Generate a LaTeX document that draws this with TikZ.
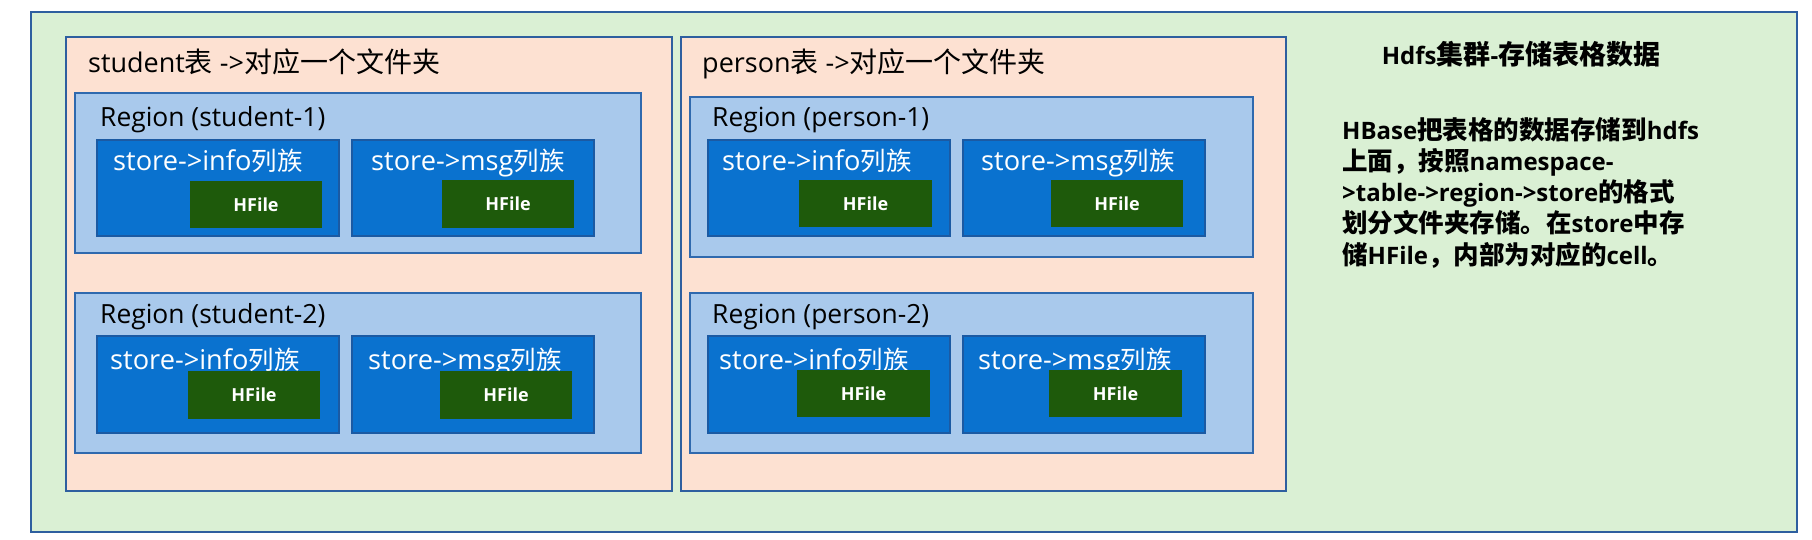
\documentclass[tikz,border=0pt]{standalone}
\usepackage{fontspec}
\setmainfont{Open Sans}
\newfontfamily\cjk{Noto Sans CJK SC}
\newcommand\zh[2]{{\cjk\fontsize{#1}{#1}\selectfont #2}}
\usetikzlibrary{fit}
\definecolor{outergreen}{HTML}{DAF0D4}
\definecolor{bordblue}{HTML}{2E5F9F}
\definecolor{peach}{HTML}{FDE1D2}
\definecolor{reglight}{HTML}{A9C9EC}
\definecolor{regedge}{HTML}{2F69AE}
\definecolor{storeblue}{HTML}{0A72CF}
\definecolor{storeedge}{HTML}{1B5AA3}
\definecolor{hgreen}{HTML}{1E5A0B}
\tikzset{
  outerbx/.style={draw=bordblue, line width=2pt, fill=outergreen, inner sep=0pt},
  tablebx/.style={draw=bordblue, line width=1.6pt, fill=peach, inner sep=0pt},
  regionbx/.style={draw=regedge, line width=1.6pt, fill=reglight, inner sep=0pt},
  storebx/.style={draw=storeedge, line width=2pt, fill=storeblue, inner sep=0pt},
  hfilebx/.style={fill=hgreen, inner sep=0pt},
  hftext/.style={text=white, inner sep=0pt, font=\bfseries\fontsize{18}{22}\selectfont},
  tabtitle/.style={anchor=base west, inner sep=0pt, font=\fontsize{27}{30}\selectfont},
  regtitle/.style={anchor=base west, inner sep=0pt, font=\fontsize{26.4}{30}\selectfont},
  storetext/.style={anchor=base west, inner sep=0pt, text=white, font=\fontsize{27.2}{30}\selectfont},
  sidetitle/.style={anchor=base, inner sep=0pt, font=\bfseries\fontsize{24}{28}\selectfont},
  sideline/.style={anchor=base west, inner sep=0pt, font=\bfseries\fontsize{24}{28}\selectfont},
}
\newcommand\zT[1]{\zh{28}{#1}}
\newcommand\zS[1]{\zh{25.5}{#1}}
\newcommand\zH[1]{\zh{27}{\bfseries #1}}
\newcommand\zR[1]{\zh{25.5}{\bfseries #1}}
\begin{document}
\begin{tikzpicture}[x=1pt,y=-1pt]
\useasboundingbox (0,0) rectangle (1812,540);
% outer cluster
\node[outerbx, fit={(31,12) (1797,532)}] (hdfs) {};
% tables
\node[tablebx, fit={(66,37) (672,491)}] (student) {};
\node[tablebx, fit={(681,37) (1286,491)}] (person) {};
\node[tabtitle] (studentT) at (88,73) {student\zT{表} ->\zT{对应一个文件夹}};
\node[tabtitle] (personT) at (702,73) {person\zT{表} ->\zT{对应一个文件夹}};
% regions
\node[regionbx, fit={(75,93) (641,253)}] (rs1) {};
\node[regionbx, fit={(75,293) (641,453)}] (rs2) {};
\node[regionbx, fit={(690,97) (1253,257)}] (rp1) {};
\node[regionbx, fit={(690,293) (1253,453)}] (rp2) {};
\node[regtitle] (rs1T) at (100,127) {Region (student-1)};
\node[regtitle] (rs2T) at (100,323) {Region (student-2)};
\node[regtitle] (rp1T) at (712,127) {Region (person-1)};
\node[regtitle] (rp2T) at (712,323) {Region (person-2)};
% stores region s1
\node[storebx, fit={(97,140) (339,236)}] (s1i) {};
\node[storebx, fit={(352,140) (594,236)}] (s1m) {};
\node[storetext] (s1iT) at (113,171) {store->info\zS{列族}};
\node[storetext] (s1mT) at (371,171) {store->msg\zS{列族}};
\node[hfilebx, fit={(190,181) (322,228)}] (h1) {};
\node[hfilebx, fit={(442,180) (574,228)}] (h2) {};
\node[hftext] (h1T) at (h1.center) {HFile};
\node[hftext] (h2T) at (h2.center) {HFile};
% stores region s2
\node[storebx, fit={(97,336) (339,433)}] (s2i) {};
\node[storebx, fit={(352,336) (594,433)}] (s2m) {};
\node[storetext] (s2iT) at (110,369) {store->info\zS{列族}};
\node[storetext] (s2mT) at (368,369) {store->msg\zS{列族}};
\node[hfilebx, fit={(188,371) (320,419)}] (h3) {};
\node[hfilebx, fit={(440,371) (572,419)}] (h4) {};
\node[hftext] (h3T) at (h3.center) {HFile};
\node[hftext] (h4T) at (h4.center) {HFile};
% stores region p1
\node[storebx, fit={(708,140) (950,236)}] (p1i) {};
\node[storebx, fit={(963,140) (1205,236)}] (p1m) {};
\node[storetext] (p1iT) at (722,171) {store->info\zS{列族}};
\node[storetext] (p1mT) at (981,171) {store->msg\zS{列族}};
\node[hfilebx, fit={(799,180) (932,227)}] (h5) {};
\node[hfilebx, fit={(1051,180) (1183,227)}] (h6) {};
\node[hftext] (h5T) at (h5.center) {HFile};
\node[hftext] (h6T) at (h6.center) {HFile};
% stores region p2
\node[storebx, fit={(708,336) (950,433)}] (p2i) {};
\node[storebx, fit={(963,336) (1205,433)}] (p2m) {};
\node[storetext] (p2iT) at (719,369) {store->info\zS{列族}};
\node[storetext] (p2mT) at (978,369) {store->msg\zS{列族}};
\node[hfilebx, fit={(797,370) (930,417)}] (h7) {};
\node[hfilebx, fit={(1049,370) (1182,417)}] (h8) {};
\node[hftext] (h7T) at (h7.center) {HFile};
\node[hftext] (h8T) at (h8.center) {HFile};
% side text
\node[sidetitle] (sideT) at (1521,65) {Hdfs\zH{集群}-\zH{存储表格数据}};
\node[sideline] (sideL1) at (1342,140) {HBase\zR{把表格的数据存储到}hdfs};
\node[sideline] (sideL2) at (1342,171) {\zR{上面，按照}namespace-};
\node[sideline] (sideL3) at (1342,202) {>table->region->store\zR{的格式}};
\node[sideline] (sideL4) at (1342,233) {\zR{划分文件夹存储。在}store\zR{中存}};
\node[sideline] (sideL5) at (1342,264) {\zR{储}HFile\zR{，内部为对应的}cell\zR{。}};
\end{tikzpicture}
\end{document}
